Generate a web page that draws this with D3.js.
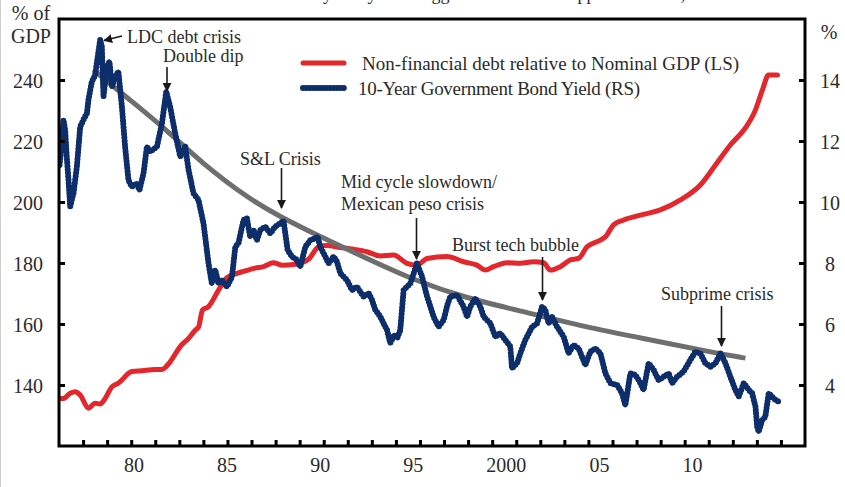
<!DOCTYPE html>
<html><head><meta charset="utf-8">
<script src="https://cdn.jsdelivr.net/npm/d3@7"></script>
<style>
html,body{margin:0;padding:0;background:#fff;}
svg{display:block;}
text{font-family:"Liberation Serif","DejaVu Serif",serif;fill:#2b2b2b;}
</style></head><body>
<svg id="c" width="845" height="487"></svg>
<script>
// ---- data ----
const debtYears = [1976.0,1976.24,1976.6,1976.87,1977.14,1977.58,1977.94,1978.21,1978.48,1978.84,
  1979.19,1979.91,1980.45,1981.17,1981.53,1981.97,1982.51,1982.96,1983.32,1983.49,
  1983.71,1984.03,1984.57,1985.02,1985.56,1986.0,1986.54,1986.99,1987.52,1987.97,
  1988.69,1989.4,1989.94,1990.39,1991.11,1991.82,1992.54,1993.26,1993.97,1994.69,
  1995.23,1995.77,1996.84,1997.73,1998.45,1998.9,1999.34,2000.06,2000.78,2001.49,
  2002.03,2002.39,2002.93,2003.47,2003.91,2004.36,2004.9,2005.35,2005.79,2006.33,
  2007.23,2008.3,2009.38,2010.45,2011.26,2012.06,2012.87,2013.41,2013.78,2014.11,2014.59];
const debtValues = [135.6,135.6,137.3,137.8,136.7,132.4,134.0,133.8,135.6,139.4,
  140.6,144.4,144.7,145.1,145.1,147.6,152.6,155.3,158.0,158.9,
  164.6,165.7,171.1,175.2,176.6,177.4,178.3,178.8,180.1,179.3,
  179.6,181.2,185.3,185.7,185.1,184.5,183.7,182.3,182.6,179.9,
  179.3,181.5,182.1,180.4,179.3,177.7,178.8,180.1,179.9,180.4,
  180.1,177.7,178.8,181.0,181.5,185.3,187.0,188.6,192.5,194.1,
  195.7,197.4,200.7,205.6,212.1,218.7,224.3,230.2,236.7,241.6,241.6];

const yieldYears = [1976.03,1976.11,1976.24,1976.33,1976.41,1976.51,1976.60,1976.78,1976.96,1977.14,
  1977.31,1977.50,1977.58,1977.76,1977.94,1978.03,1978.21,1978.30,1978.39,1978.57,
  1978.71,1978.84,1979.02,1979.19,1979.38,1979.55,1979.73,1979.91,1980.18,1980.32,
  1980.54,1980.72,1980.90,1981.26,1981.53,1981.76,1981.97,1982.24,1982.51,1982.78,
  1982.96,1983.22,1983.49,1983.76,1984.03,1984.21,1984.39,1984.57,1984.75,1985.02,
  1985.29,1985.47,1985.64,1985.91,1986.09,1986.27,1986.45,1986.63,1986.81,1987.08,
  1987.35,1987.61,1987.88,1988.06,1988.28,1988.51,1988.78,1988.96,1989.23,1989.50,
  1989.76,1989.89,1990.03,1990.30,1990.48,1990.75,1990.93,1991.11,1991.47,1991.74,
  1992.00,1992.36,1992.63,1992.81,1992.99,1993.26,1993.43,1993.62,1993.79,1994.01,
  1994.17,1994.33,1994.51,1994.87,1995.23,1995.50,1995.77,1996.12,1996.39,1996.66,
  1996.86,1997.02,1997.38,1997.73,1997.92,1998.09,1998.36,1998.63,1998.81,1999.17,
  1999.44,1999.70,1999.97,2000.24,2000.33,2000.60,2000.78,2001.05,2001.41,2001.68,
  2001.95,2002.12,2002.30,2002.48,2002.75,2003.11,2003.37,2003.64,2003.91,2004.09,
  2004.27,2004.54,2004.81,2005.08,2005.35,2005.62,2005.98,2006.24,2006.42,2006.69,
  2006.96,2007.23,2007.40,2007.67,2007.94,2008.21,2008.48,2008.75,2008.93,2009.20,
  2009.55,2009.91,2010.18,2010.45,2010.72,2010.99,2011.26,2011.53,2011.80,2012.06,
  2012.33,2012.51,2012.78,2013.05,2013.23,2013.41,2013.50,2013.58,2013.77,2013.94,
  2014.12,2014.30,2014.48,2014.66];
const yieldValues = [11.21,11.70,12.69,12.36,11.54,10.72,9.85,10.29,11.16,12.47,
  12.69,12.91,13.34,13.94,14.16,14.55,15.31,15.09,13.45,14.44,
  14.60,13.78,14.11,14.27,13.12,11.81,10.72,10.50,10.61,10.39,
  10.94,11.81,11.65,11.81,12.58,13.62,13.12,12.25,11.49,11.81,
  11.05,10.29,10.07,9.30,7.99,7.33,7.77,7.33,7.44,7.22,
  7.55,8.53,8.65,9.41,9.47,8.86,9.08,8.75,9.08,9.19,
  8.97,9.19,9.30,9.38,8.43,8.21,8.10,7.88,8.53,8.75,
  8.81,8.86,8.53,8.21,7.99,8.21,8.04,7.66,7.44,7.11,
  7.22,6.90,7.01,6.79,6.46,6.24,6.02,5.80,5.38,5.64,
  5.54,5.80,7.11,7.33,7.99,7.55,6.90,6.24,5.91,6.13,
  6.62,6.90,6.95,6.57,6.24,6.57,6.84,6.57,6.24,6.02,
  5.58,5.70,5.48,5.26,4.55,4.71,5.04,5.48,5.91,6.02,
  6.57,6.46,6.02,6.24,5.91,5.58,5.04,5.31,5.20,4.93,
  4.66,5.09,5.20,5.04,4.38,4.06,4.00,3.73,3.34,4.38,
  4.33,4.06,3.84,4.71,4.49,4.16,4.27,4.38,4.06,4.27,
  4.44,4.82,5.09,5.04,4.71,4.60,4.71,5.04,4.71,4.27,
  3.84,3.62,4.06,3.84,3.73,3.29,2.63,2.47,2.85,2.96,
  3.73,3.62,3.51,3.45];

const trendYears = [1977.85,1979.82,1981.79,1983.58,1986.27,1987.88,1990.03,1992.54,1995.05,1997.92,2000.60,2004.18,2007.76,2011.35,2012.87];
const trendValues = [14.33,13.34,12.36,11.32,10.07,9.52,8.86,8.15,7.44,6.84,6.46,5.91,5.48,5.04,4.88];

const xLabelYears = [1980,1985,1990,1995,2000,2005,2010];
const xTickLabels = ["80","85","90","95","2000","05","10"];
const leftTicks = [140,160,180,200,220,240];
const rightTicks = [4,6,8,10,12,14];
const seriesNames = ["Non-financial debt relative to Nominal GDP (LS)","10-Year Government Bond Yield (RS)"];
const titleText = "Bond market crisis hit by every new trigger as debt levels approach limits, then the Fed cuts rates";

// annotations: label lines, text anchor position, arrow from -> to (layout in px)
const annotations = [
  {lines:["LDC debt crisis"], x:127, y:43, arrow:[[122,36],[104,40.5]]},
  {lines:["Double dip"], x:163, y:62, arrow:[[167,67],[167,91]]},
  {lines:["S&L Crisis"], x:240, y:165, arrow:[[281.5,168],[281.5,208]]},
  {lines:["Mid cycle slowdown/","Mexican peso crisis"], x:341, y:188, arrow:[[416.5,218],[416.5,259]]},
  {lines:["Burst tech bubble"], x:452, y:251, arrow:[[542.5,257],[542.5,300]]},
  {lines:["Subprime crisis"], x:661, y:300, arrow:[[721.5,306],[721.5,346]]}
];

// ---- layout ----
const L=59, R=805, T=19, B=446;
const svg = d3.select("#c");
const x = d3.scaleLinear().domain([1976.0, 2016.07]).range([L, R]);
const yL = d3.scaleLinear().domain([120, 260]).range([B, T]);
const yR = d3.scaleLinear().domain([2, 16]).range([B, T]);

const red="#e3272c", blue="#0d2d6b", grey="#6e6e6e";

// faint page edge
svg.append("line").attr("x1",0.5).attr("x2",0.5).attr("y1",0).attr("y2",487)
  .attr("stroke","#cfcfcf").attr("stroke-width",1);

// clipped title (only descenders visible, as in the reference)
svg.append("text").attr("x",150).attr("y",-0.5).attr("font-size",18).text(titleText);

// plot clip
svg.append("defs").append("clipPath").attr("id","pc").append("rect")
  .attr("x",L).attr("y",T).attr("width",R-L).attr("height",B-T);

const gp = svg.append("g").attr("clip-path","url(#pc)");

const debt = d3.zip(debtYears, debtValues);
const yld = d3.zip(yieldYears, yieldValues);
const trend = d3.zip(trendYears, trendValues);

gp.append("path").datum(debt)
  .attr("d", d3.line().x(d=>x(d[0])).y(d=>yL(d[1])).curve(d3.curveMonotoneX))
  .attr("fill","none").attr("stroke",red).attr("stroke-width",5).attr("stroke-linejoin","round").attr("stroke-linecap","round");

gp.append("path").datum(trend)
  .attr("d", d3.line().x(d=>x(d[0])).y(d=>yR(d[1])).curve(d3.curveBasis))
  .attr("fill","none").attr("stroke",grey).attr("stroke-width",5).attr("stroke-linecap","butt");

const yLine = d3.line().x(d=>x(d[0])).y(d=>yR(d[1]));
gp.append("path").datum(yld).attr("d", yLine)
  .attr("fill","none").attr("stroke",blue).attr("stroke-width",4.5).attr("stroke-linejoin","round").attr("stroke-linecap","round");
gp.append("path").datum(yld).attr("d", yLine)
  .attr("fill","none").attr("stroke",blue).attr("stroke-width",6).attr("stroke-dasharray","0 3.4").attr("stroke-linecap","round");

// ---- axes ----
const nMinor = 31;
const minorTicks = d3.range(1, nMinor).map(i => x.domain()[0] + i*(x.domain()[1]-x.domain()[0])/nMinor);

const gx = svg.append("g").attr("transform",`translate(0,${B})`)
  .call(d3.axisBottom(x).tickValues(minorTicks).tickSize(-6).tickFormat(""));
gx.select(".domain").remove();
gx.selectAll("line").attr("stroke","#000").attr("stroke-width",3);

const gxl = svg.append("g").attr("transform",`translate(0,${B})`)
  .call(d3.axisBottom(x).tickValues(xLabelYears).tickSize(0).tickPadding(12).tickFormat((d,i)=>xTickLabels[i]));
gxl.select(".domain").remove();
gxl.selectAll("text").attr("font-size",20).attr("font-family","Liberation Serif").attr("fill","#2b2b2b");

const gl = svg.append("g").attr("transform",`translate(${L},0)`)
  .call(d3.axisLeft(yL).tickValues(leftTicks).tickSize(-6).tickPadding(16));
gl.select(".domain").remove();
gl.selectAll("line").attr("stroke","#000").attr("stroke-width",3);
gl.selectAll("text").attr("font-size",20).attr("font-family","Liberation Serif").attr("fill","#2b2b2b").attr("dy","0.38em");

const gr = svg.append("g").attr("transform",`translate(${R},0)`)
  .call(d3.axisRight(yR).tickValues(rightTicks).tickSize(-6).tickPadding(25));
gr.select(".domain").remove();
gr.selectAll("line").attr("stroke","#000").attr("stroke-width",3);
gr.selectAll("text").attr("font-size",20).attr("font-family","Liberation Serif").attr("fill","#2b2b2b")
  .attr("text-anchor","middle").attr("dy","0.38em");

// frame
svg.append("rect").attr("x",L).attr("y",T).attr("width",R-L).attr("height",B-T)
  .attr("fill","none").attr("stroke","#000").attr("stroke-width",3);

// axis unit labels
svg.append("text").attr("x",31).attr("y",20).attr("font-size",20).attr("text-anchor","middle").text("% of");
svg.append("text").attr("x",31).attr("y",43).attr("font-size",20).attr("text-anchor","middle").text("GDP");
svg.append("text").attr("x",829).attr("y",39).attr("font-size",20).attr("text-anchor","middle").text("%");

// legend
const lg = svg.append("g");
[[red,63,seriesNames[0]],[blue,88,seriesNames[1]]].forEach(([c,yy,t],i)=>{
  lg.append("line").attr("x1",303).attr("x2",344).attr("y1",yy).attr("y2",yy)
    .attr("stroke",c).attr("stroke-width",i===0?5:4.5).attr("stroke-linecap","round");
  if(i===1) lg.append("line").attr("x1",303).attr("x2",344).attr("y1",yy).attr("y2",yy)
    .attr("stroke",c).attr("stroke-width",6).attr("stroke-dasharray","0 3.4").attr("stroke-linecap","round");
  lg.append("text").attr("x", i===0?362:358).attr("y",yy+6.5).attr("font-size",19)
    .attr("textLength", i===0?null:282).text(t);
});

// annotations
const defs = svg.select("defs");
defs.append("marker").attr("id","ah").attr("viewBox","0 0 10 10").attr("refX",9).attr("refY",5)
  .attr("markerWidth",9).attr("markerHeight",9).attr("markerUnits","userSpaceOnUse").attr("orient","auto")
  .append("path").attr("d","M0,0 L10,5 L0,10 Z").attr("fill","#1a1a1a");
annotations.forEach(a=>{
  const t = svg.append("text").attr("x",a.x).attr("y",a.y).attr("font-size",18);
  a.lines.forEach((ln,i)=> t.append("tspan").attr("x",a.x).attr("dy", i===0?0:22).text(ln));
  svg.append("line").attr("x1",a.arrow[0][0]).attr("y1",a.arrow[0][1])
    .attr("x2",a.arrow[1][0]).attr("y2",a.arrow[1][1])
    .attr("stroke","#1a1a1a").attr("stroke-width",1.6).attr("marker-end","url(#ah)");
});
</script>
</body></html>
